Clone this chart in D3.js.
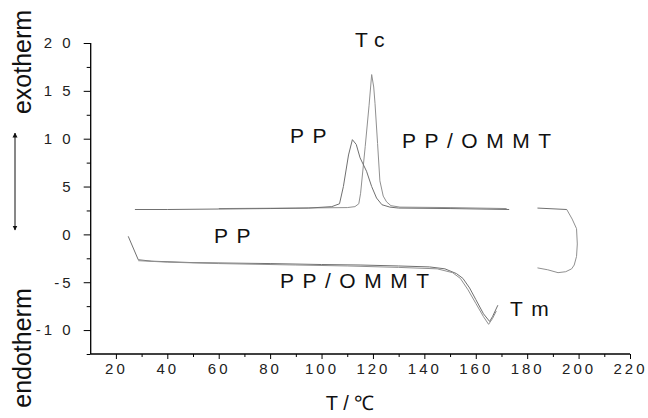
<!DOCTYPE html>
<html><head><meta charset="utf-8">
<script src="https://cdn.jsdelivr.net/npm/d3@7"></script>
<style>body{margin:0;background:#fff}svg text{font-family:"Liberation Sans",Arial,sans-serif}</style>
</head><body><svg id="c" width="648" height="418"></svg>
<script>
// ---- data ----
const xTickLabels = [20, 40, 60, 80, 100, 120, 140, 160, 180, 200, 220];
const yTickLabels = [-10, -5, 0, 5, 10, 15, 20];
const xDomain = [10.2, 220];
const yDomain = [-12.5, 20];

// cooling runs (exotherm, crystallisation peak Tc); null = gap in the trace
const ppCooling = [[27.4,2.6],[40,2.6],[60,2.65],[80,2.7],[95,2.75],[104,2.9],[107,3.2],[108.5,5],[110.5,8.3],[112,9.9],[113.5,9.4],[115,8.0],[117.5,6.6],[119.5,5.0],[121.4,3.8],[123.5,3.1],[126.6,2.85],[130,2.75],[150,2.7],[173,2.6],null,[184,2.75],[195.4,2.6]];
const ommtCooling = [[60,2.7],[90,2.75],[110,2.8],[113,2.9],[114.5,3.2],[115.2,4.3],[117,9.2],[118.5,13.5],[119.5,16.7],[120.3,15.4],[120.8,13.7],[121.8,9.5],[122.7,5.6],[124,4.0],[125.3,3.4],[127,3.0],[130.5,2.85],[150,2.8],[172,2.7]];
// isothermal hold / turnaround at 200 °C
const turnaround = [[195.4,2.6],[197.5,1.6],[199.2,0.6],[199.5,-1.0],[199.2,-2.3],[198.3,-3.2],[197.3,-3.6],[195,-3.9],[192,-4.0]];
// heating runs (endotherm, melting peak Tm)
const ppHeating = [[24.8,-0.2],[28.7,-2.65],[34,-2.8],[50,-2.95],[80,-3.05],[100,-3.15],[115,-3.2],[130,-3.3],[142,-3.4],[148,-3.6],[152.5,-4.1],[155,-4.6],[157.6,-5.6],[160,-6.8],[163,-8.3],[165.4,-9.1],[166.5,-8.6],[168.6,-7.4]];
const ommtHeating = [[28.7,-2.75],[40,-2.9],[60,-3.05],[90,-3.2],[110,-3.3],[130,-3.45],[145,-3.6],[151,-4.0],[154,-4.6],[157,-5.8],[160,-7.2],[163,-8.6],[165,-9.4],[166.5,-8.8],[168,-8.0]];
const heatingEnd = [[184,-3.5],[188,-3.7],[192,-4.0]];

const annotations = [
  {text:"Tc", x:355, y:47},
  {text:"PP", x:290, y:143},
  {text:"PP/OMMT", x:402, y:148},
  {text:"PP", x:214, y:243},
  {text:"PP/OMMT", x:280, y:288},
  {text:"Tm", x:510, y:316}
];

// ---- drawing ----
const svg = d3.select("#c");
const x = d3.scaleLinear().domain(xDomain).range([90.7, 630]);
const y = d3.scaleLinear().domain(yDomain).range([354, 43]);

const line = d3.line().defined(d => d !== null).x(d => x(d[0])).y(d => y(d[1]));
const curveStyle = (sel, c, w) => sel.attr("fill","none").attr("stroke",c).attr("stroke-width",w);

[[ppHeating,"#707070"],[ommtHeating,"#909090"],[heatingEnd,"#909090"],[turnaround,"#909090"],[ommtCooling,"#909090"],[ppCooling,"#707070"]]
  .forEach(([data,c]) => svg.append("path").datum(data).attr("d", line).call(curveStyle, c, 1));

// axes
const xAxis = d3.axisBottom(x).tickValues(d3.range(20, 221, 10)).tickSize(4).tickFormat(d => xTickLabels.includes(d) ? d : "");
const gx = svg.append("g").attr("transform","translate(0,354)").call(xAxis);
gx.select(".domain").attr("d", `M${x(xDomain[0])},0H${x(220)}`).attr("stroke","#000").attr("stroke-width",1.3);
gx.selectAll(".tick line").attr("stroke","#000").attr("y2", d => xTickLabels.includes(d) ? 5 : 3);
gx.selectAll(".tick text").attr("y", 9).attr("font-size", 15).attr("letter-spacing", "3px").attr("fill","#222")
  .attr("font-family","Liberation Sans, Arial, sans-serif");

const yAxis = d3.axisLeft(y).tickValues(d3.range(-12.5, 20.01, 2.5)).tickSize(7).tickFormat(d => yTickLabels.includes(d) ? d : "");
const gy = svg.append("g").attr("transform",`translate(${x(xDomain[0])},0)`).call(yAxis);
gy.select(".domain").attr("d", `M0,${y(20)}V${y(-12.5)}`).attr("stroke","#000").attr("stroke-width",1.3);
gy.selectAll(".tick line").attr("stroke","#000").attr("x2", d => yTickLabels.includes(d) ? -7 : -4);
gy.selectAll(".tick text").attr("x", -17).attr("font-size", 15).attr("letter-spacing", "3px").attr("fill","#222")
  .attr("font-family","Liberation Sans, Arial, sans-serif").text(d => yTickLabels.includes(d) ? String(d).split("").join(" ").replace("- ","-") : "");

// annotations
svg.selectAll("text.ann").data(annotations).join("text").attr("class","ann")
  .attr("x", d => d.x).attr("y", d => d.y).attr("font-size", 21).attr("letter-spacing","8.5px").attr("fill","#111").text(d => d.text);

// axis titles
svg.append("text").attr("x", 350).attr("y", 410).attr("text-anchor","middle").attr("font-size", 20).attr("fill","#111").text("T / ℃");
svg.append("text").attr("transform","translate(31,62) rotate(-90)").attr("text-anchor","middle").attr("font-size", 25).attr("fill","#111").text("exotherm");
svg.append("text").attr("transform","translate(31,348) rotate(-90)").attr("text-anchor","middle").attr("font-size", 25).attr("fill","#111").text("endotherm");

// double-headed arrow
const defs = svg.append("defs");
defs.append("marker").attr("id","ah").attr("viewBox","0 0 10 10").attr("refX",9).attr("refY",5)
  .attr("markerWidth",5).attr("markerHeight",6).attr("orient","auto-start-reverse")
  .append("path").attr("d","M0,0L10,5L0,10z").attr("fill","#111");
svg.append("line").attr("x1",15).attr("x2",15).attr("y1",133).attr("y2",230)
  .attr("stroke","#111").attr("stroke-width",1).attr("marker-start","url(#ah)").attr("marker-end","url(#ah)");
</script></body></html>
